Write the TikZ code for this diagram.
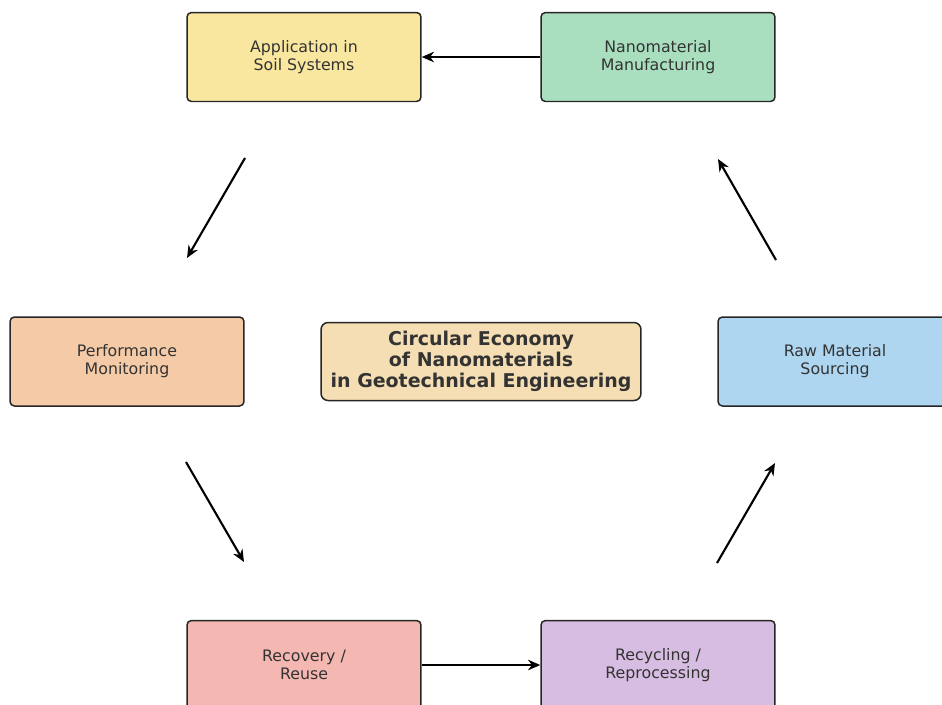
\documentclass[tikz,border=0pt]{standalone}
\usepackage{fontspec}
\setmainfont{DejaVu Sans}
\usetikzlibrary{arrows.meta}
\definecolor{txt}{HTML}{333333}
\definecolor{cYel}{HTML}{F9E79F}
\definecolor{cGrn}{HTML}{A9DFBF}
\definecolor{cBlu}{HTML}{AED6F1}
\definecolor{cPur}{HTML}{D7BDE2}
\definecolor{cPnk}{HTML}{F5B7B1}
\definecolor{cOrg}{HTML}{F5CBA7}
\definecolor{cWht}{HTML}{F5DEB3}
\tikzset{
  stagebox/.style={draw=black!85, line width=0.85pt, rounded corners=2.5pt, fill=#1,
    minimum width=4.68cm, minimum height=1.78cm, align=center, text=txt,
    font=\fontsize{9}{10.2}\selectfont},
  flow/.style={-{Stealth[length=7pt,width=6pt]}, line width=1.2pt}
}
\newcommand{\stg}[4]{\node[stagebox=#4] (#1) at (#2) {#3};}

\begin{document}
\begin{tikzpicture}[x=0.02cm, y=-0.02cm]
        \useasboundingbox (0,0) rectangle (942,704);
        \clip (0,0) rectangle (942,704);
        \stg{app}{304,57}{Application in\\Soil Systems}{cYel}
        \stg{manu}{658,57}{Nanomaterial\\Manufacturing}{cGrn}
        \stg{perf}{127,361.5}{Performance\\Monitoring}{cOrg}
        \stg{raw}{835,361.5}{Raw Material\\Sourcing}{cBlu}
        \stg{reco}{304,665}{Recovery /\\Reuse}{cPnk}
        \stg{recy}{658,665}{Recycling /\\Reprocessing}{cPur}
        \node[draw=black!85, line width=0.85pt, rounded corners=4pt, fill=cWht, text=txt,
          minimum width=6.4cm, minimum height=1.56cm, align=center,
          font=\fontsize{10.8}{11.8}\selectfont\bfseries] (title) at (481,361.5)
          {Circular Economy\\of Nanomaterials\\in Geotechnical Engineering};
        % free ends of the diagonal arrows
        \coordinate (a1) at (245,158); \coordinate (a2) at (187,258);
        \coordinate (b1) at (186,462); \coordinate (b2) at (244,562);
        \coordinate (c1) at (717,563); \coordinate (c2) at (775,463);
        \coordinate (d1) at (776,260); \coordinate (d2) at (718,159);
        \draw[flow] (manu.west) -- (app.east);
        \draw[flow] (a1) -- (a2);
        \draw[flow] (b1) -- (b2);
        \draw[flow] (reco.east) -- (recy.west);
        \draw[flow] (c1) -- (c2);
        \draw[flow] (d1) -- (d2);
      \end{tikzpicture}
\end{document}
